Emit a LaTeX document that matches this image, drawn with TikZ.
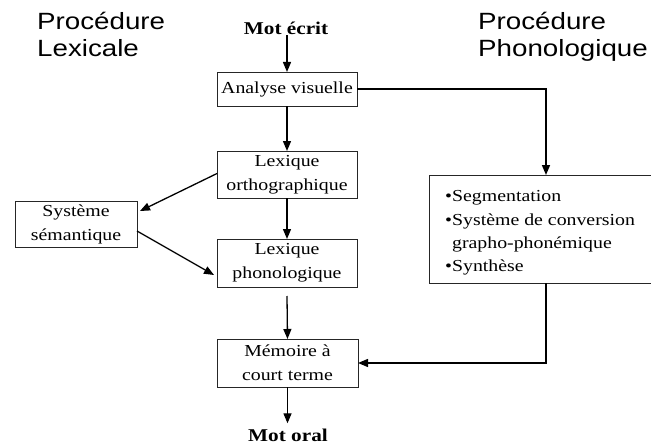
\documentclass[tikz,border=0pt]{standalone}
\usepackage{fontspec}
\setmainfont{Liberation Serif}[FakeStretch=1.18]
\newfontfamily\titlefont{Liberation Sans}[FakeStretch=1.18]
\usetikzlibrary{arrows.meta}
\begin{document}
\begin{tikzpicture}[x=1pt,y=-1pt,
  box/.style={draw=black!85, line width=0.8pt, inner sep=0pt, outer sep=0pt, align=center,
    font=\fontsize{16.8}{24}\selectfont},
  arr/.style={line width=1.3pt, -{Triangle[length=10pt,width=8pt]}},
  title/.style={inner sep=0pt, anchor=north west, align=left, font=\titlefont\fontsize{23.5}{27}\selectfont},
  endword/.style={inner sep=0pt, anchor=base, font=\bfseries\fontsize{18}{20}\selectfont}]
\useasboundingbox (0,0) rectangle (651,444);
\clip (0,0) rectangle (651,444);
% titles
\node[title] (tlex) at (37,11.8) {Procédure\\Lexicale};
\node[title] (tphon) at (478,11.8) {Procédure\\Phonologique};
% nodes
\node[endword] (motecrit) at (286,35) {Mot écrit};
\node[box, minimum width=140pt, minimum height=34pt] (av) at (287,89) {Analyse visuelle};
\node[box, minimum width=140pt, minimum height=47pt] (lo) at (287,174.5) {Lexique\\orthographique};
\node[box, minimum width=140pt, minimum height=48pt] (lp) at (287,263) {Lexique\\phonologique};
\node[box, minimum width=122pt, minimum height=46pt] (sys) at (76,224) {Système\\sémantique};
\node[box, minimum width=141pt, minimum height=48pt] (mem) at (287.5,363) {Mémoire à\\court terme};
\node[endword] (motoral) at (288,441) {Mot oral};
\node[box, minimum width=234pt, minimum height=108pt] (rb) at (546,229) {};
\node[inner sep=0pt, anchor=north west, align=left, font=\fontsize{16.8}{23.3}\selectfont] (rbt) at (445,190.6)
  {•Segmentation\\•Système de conversion\\\phantom{•}grapho-phonémique\\•Synthèse};
% connectors
\draw[arr] (av.north |- motecrit.south) -- (av.north);
\draw[arr] (av.south) -- (lo.north);
\draw[arr] (lo.south) -- (lp.north);
\draw[arr] ([yshift=-9pt]lp.south) -- (mem.north);
\draw[arr] (mem.south) -- ([yshift=5pt]mem.south |- motoral.north);
\draw[arr] ([yshift=1pt]lo.west) -- ([xshift=3pt,yshift=13pt]sys.east);
\draw[arr] ([yshift=-7pt]sys.east) -- ([xshift=-3pt,yshift=-12pt]lp.west);
\draw[arr, line width=1.6pt] (av.east) -| (rb.north);
\draw[arr] (rb.south) |- (mem.east);
\end{tikzpicture}
\end{document}
